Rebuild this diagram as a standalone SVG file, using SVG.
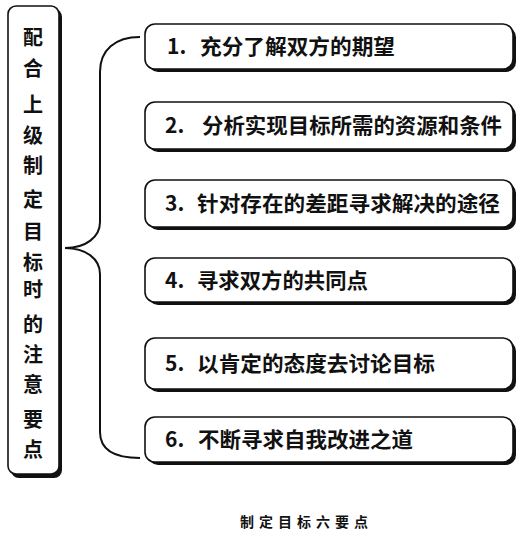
<svg xmlns="http://www.w3.org/2000/svg" width="525" height="539" viewBox="0 0 525 539">
<style>
.sh{fill:#111}
.bx{fill:#fff;stroke:#111;stroke-width:1.6}
.t{font-family:"Noto Sans CJK SC","Liberation Sans",sans-serif;font-size:21px;font-weight:bold;fill:#111}
.v{font-family:"Noto Sans CJK SC",sans-serif;font-size:20px;font-weight:bold;fill:#111;text-anchor:middle}
.cap{font-family:"Noto Sans CJK SC",sans-serif;font-size:14px;font-weight:bold;fill:#111}
.br{fill:none;stroke:#111;stroke-width:2}
</style>
<rect width="525" height="539" fill="#fff"/>
<g id="main">
<rect class="sh" x="11" y="9" width="51" height="469" rx="8"/>
<rect class="bx" x="8" y="6" width="51" height="468" rx="8"/>
<text class="v" x="33"><tspan x="33" y="45">配</tspan><tspan x="33" y="76">合</tspan><tspan x="33" y="112">上</tspan><tspan x="33" y="143">级</tspan><tspan x="33" y="173">制</tspan><tspan x="33" y="207">定</tspan><tspan x="33" y="239">目</tspan><tspan x="33" y="270">标</tspan><tspan x="33" y="297">时</tspan><tspan x="33" y="332">的</tspan><tspan x="33" y="362">注</tspan><tspan x="33" y="392">意</tspan><tspan x="33" y="427">要</tspan><tspan x="33" y="457">点</tspan></text>
</g>
<g id="connectors">
<path class="br" d="M140,37 C115,37 100,50 100,72 L100,222 C100,237 86,248 65,248 C86,248 100,259 100,274 L100,432 C100,450 115,458 140,458"/>
</g>
<g id="n1">
<rect class="sh" x="148" y="27" width="368" height="45" rx="10"/>
<rect class="bx" x="145" y="24" width="368" height="45" rx="10"/>
<text class="t" x="167" y="54">1.<tspan x="200" textLength="195" lengthAdjust="spacingAndGlyphs">充分了解双方的期望</tspan></text>
</g>
<g id="n2">
<rect class="sh" x="148" y="105" width="368" height="47" rx="10"/>
<rect class="bx" x="145" y="102" width="368" height="47" rx="10"/>
<text class="t" x="165" y="133">2.<tspan x="202" textLength="300" lengthAdjust="spacingAndGlyphs">分析实现目标所需的资源和条件</tspan></text>
</g>
<g id="n3">
<rect class="sh" x="148" y="183" width="368" height="47" rx="10"/>
<rect class="bx" x="145" y="180" width="368" height="47" rx="10"/>
<text class="t" x="165" y="211">3.<tspan x="197" textLength="303" lengthAdjust="spacingAndGlyphs">针对存在的差距寻求解决的途径</tspan></text>
</g>
<g id="n4">
<rect class="sh" x="148" y="261" width="368" height="44" rx="10"/>
<rect class="bx" x="145" y="258" width="368" height="44" rx="10"/>
<text class="t" x="165" y="288">4.<tspan x="197" textLength="171" lengthAdjust="spacingAndGlyphs">寻求双方的共同点</tspan></text>
</g>
<g id="n5">
<rect class="sh" x="148" y="341" width="368" height="51" rx="10"/>
<rect class="bx" x="145" y="338" width="368" height="51" rx="10"/>
<text class="t" x="165" y="371">5.<tspan x="197" textLength="238" lengthAdjust="spacingAndGlyphs">以肯定的态度去讨论目标</tspan></text>
</g>
<g id="n6">
<rect class="sh" x="148" y="420" width="368" height="45" rx="10"/>
<rect class="bx" x="145" y="417" width="368" height="45" rx="10"/>
<text class="t" x="165" y="447">6.<tspan x="198" textLength="215" lengthAdjust="spacingAndGlyphs">不断寻求自我改进之道</tspan></text>
</g>
<text class="cap" x="240" y="527" textLength="128" lengthAdjust="spacing">制定目标六要点</text>
</svg>
